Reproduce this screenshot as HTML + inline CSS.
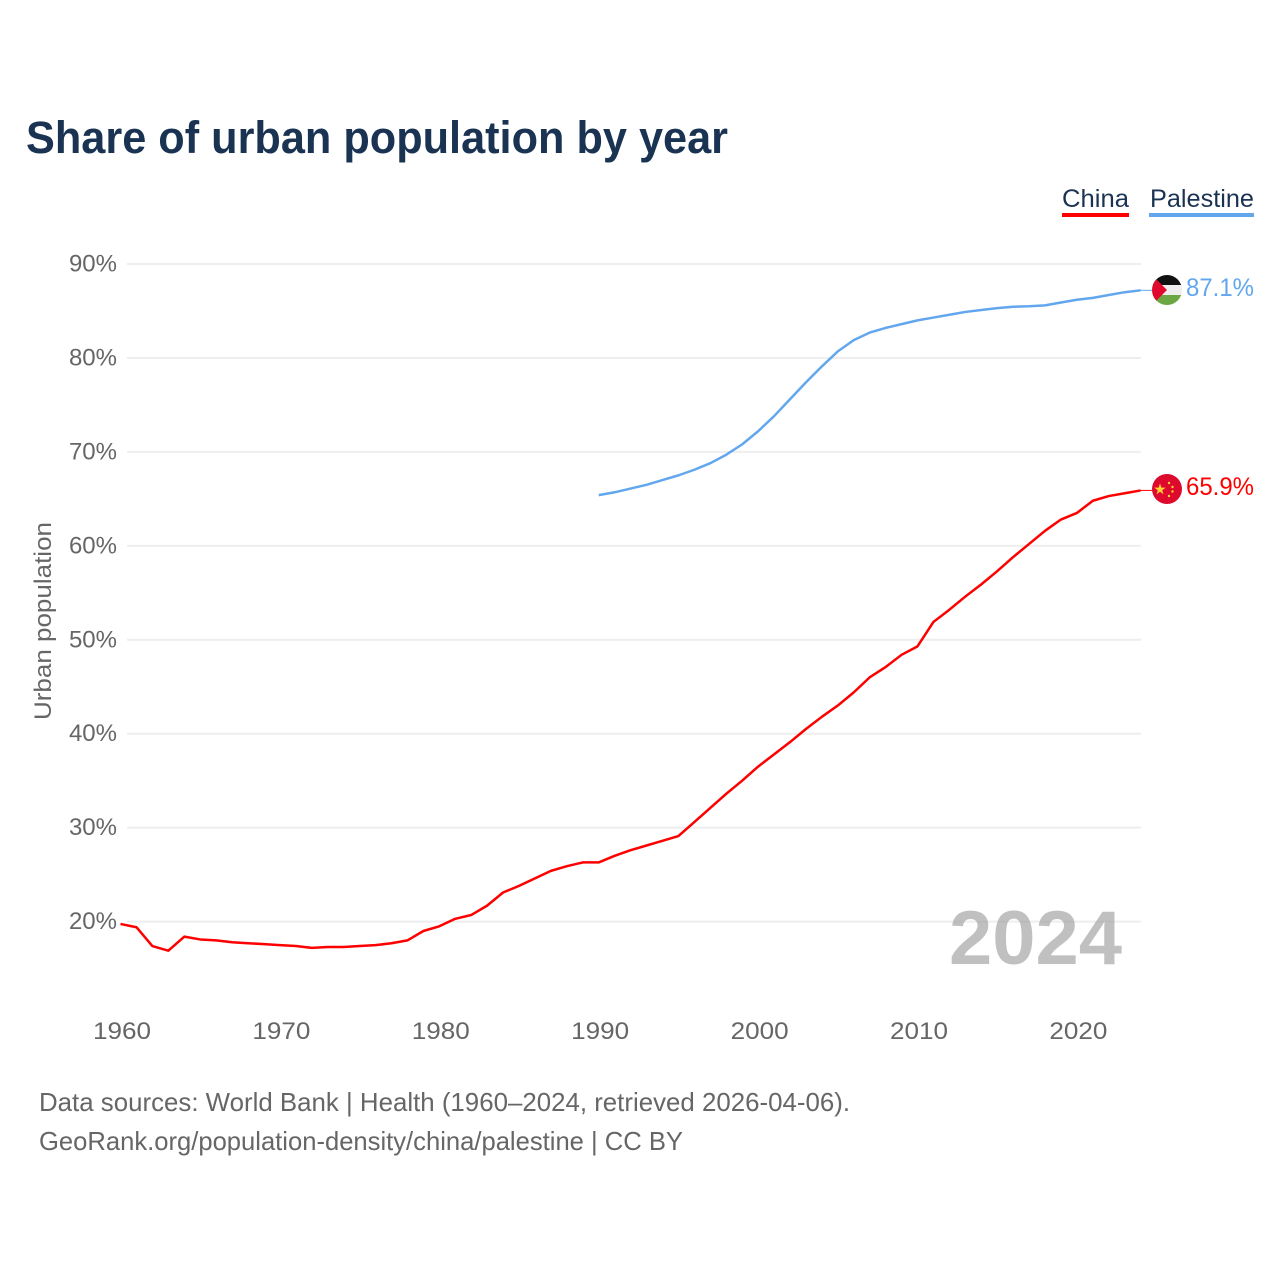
<!DOCTYPE html>
<html lang="en">
<head>
<meta charset="utf-8">
<title>Share of urban population by year</title>
<style>
html,body{margin:0;padding:0;background:#fff}
svg{display:block}
text{font-family:"Liberation Sans",sans-serif}
</style>
</head>
<body>
<svg id="chart" xmlns="http://www.w3.org/2000/svg" width="1280" height="1280" viewBox="0 0 1280 1280">
  <defs>
    <clipPath id="flag-clip-ps"><circle cx="1167" cy="290" r="15"/></clipPath>
    <clipPath id="flag-clip-cn"><circle cx="1167" cy="489" r="15"/></clipPath>
  </defs>
  <rect x="0" y="0" width="1280" height="1280" fill="#fff"/>
  <text x="26" y="153" font-size="45" font-weight="700" fill="#1a3352" textLength="702" lengthAdjust="spacingAndGlyphs">Share of urban population by year</text>

  <g id="grid"></g>
  <g id="y-ticks"></g>
  <g id="x-ticks"></g>
  <text transform="translate(51,621) rotate(-90)" text-anchor="middle" font-size="24" fill="#666" textLength="198" lengthAdjust="spacingAndGlyphs">Urban population</text>

  <g id="series"></g>

  <text x="949" y="964" font-size="76" font-weight="700" fill="#999" fill-opacity="0.62" textLength="173" lengthAdjust="spacingAndGlyphs">2024</text>

  <g>
    <text x="1062" y="207" font-size="25" fill="#1a3352" textLength="67" lengthAdjust="spacingAndGlyphs">China</text>
    <rect x="1062" y="213" width="67" height="4" fill="#ff0000"/>
  </g>
  <g>
    <text x="1150" y="207" font-size="25" fill="#1a3352" textLength="104" lengthAdjust="spacingAndGlyphs">Palestine</text>
    <rect x="1149" y="213" width="105" height="4" fill="#62a7ee"/>
  </g>

  <g clip-path="url(#flag-clip-ps)">
    <rect x="1152" y="275" width="30" height="10" fill="#111"/>
    <rect x="1152" y="285" width="30" height="10" fill="#eee"/>
    <rect x="1152" y="295" width="30" height="10" fill="#6ca744"/>
    <polygon points="1152,275 1167,290 1152,305" fill="#e0082d"/>
  </g>
  <g clip-path="url(#flag-clip-cn)">
    <rect x="1152" y="474" width="30" height="30" fill="#de0a2e"/>
    <polygon points="1160,483.5 1161.4,487.6 1165.7,487.6 1162.2,490.2 1163.5,494.3 1160,491.8 1156.5,494.3 1157.8,490.2 1154.3,487.6 1158.6,487.6" fill="#ffcf35"/>
    <circle cx="1169" cy="483" r="1.2" fill="#ffcf35"/>
    <circle cx="1172.500" cy="487" r="1.2" fill="#ffcf35"/>
    <circle cx="1172.500" cy="491.500" r="1.2" fill="#ffcf35"/>
    <circle cx="1169" cy="496" r="1.2" fill="#ffcf35"/>
  </g>

  <text x="1186" y="296" font-size="25" fill="#62a7ee" textLength="68" lengthAdjust="spacingAndGlyphs">87.1%</text>
  <text x="1186" y="495" font-size="25" fill="#ff0000" textLength="68" lengthAdjust="spacingAndGlyphs">65.9%</text>

  <text x="39" y="1111" font-size="26" fill="#666" textLength="811" lengthAdjust="spacingAndGlyphs">Data sources: World Bank | Health (1960–2024, retrieved 2026-04-06).</text>
  <text x="39" y="1150" font-size="26" fill="#666" textLength="644" lengthAdjust="spacingAndGlyphs">GeoRank.org/population-density/china/palestine | CC BY</text>
</svg>
<script>
const yTickValues = [20, 30, 40, 50, 60, 70, 80, 90];
const xTickYears = [1960, 1970, 1980, 1990, 2000, 2010, 2020];
const chinaStartYear = 1960;
const chinaValues = [19.75, 19.4, 17.4, 16.9, 18.4, 18.1, 18.0, 17.8, 17.7, 17.6, 17.5, 17.4, 17.2, 17.3, 17.3, 17.4, 17.5, 17.7, 18.0, 19.0, 19.5, 20.3, 20.7, 21.7, 23.1, 23.8, 24.6, 25.4, 25.9, 26.3, 26.3, 27.0, 27.6, 28.1, 28.6, 29.1, 30.6, 32.1, 33.6, 35.0, 36.5, 37.8, 39.1, 40.5, 41.8, 43.0, 44.4, 46.0, 47.1, 48.4, 49.3, 51.9, 53.2, 54.6, 55.9, 57.3, 58.8, 60.2, 61.6, 62.8, 63.5, 64.8, 65.3, 65.6, 65.9];
const palestineStartYear = 1990;
const palestineValues = [65.4, 65.7, 66.1, 66.5, 67.0, 67.5, 68.1, 68.8, 69.7, 70.8, 72.2, 73.8, 75.6, 77.4, 79.1, 80.7, 81.9, 82.7, 83.2, 83.6, 84.0, 84.3, 84.6, 84.9, 85.1, 85.3, 85.45, 85.5, 85.6, 85.9, 86.2, 86.4, 86.7, 87.0, 87.2];

const NS = 'http://www.w3.org/2000/svg';
const xScale = year => 120.5 + (year - 1960) * 15.94;
const yScale = value => 921.6 - (value - 20) * 9.394;

const gridGroup = document.getElementById('grid');
const yTickGroup = document.getElementById('y-ticks');
const xTickGroup = document.getElementById('x-ticks');
const seriesGroup = document.getElementById('series');

yTickValues.forEach(value => {
  const line = document.createElementNS(NS, 'line');
  
  
  line.setAttribute('x1', 127);
  line.setAttribute('x2', 1141);
  line.setAttribute('y1', yScale(value));
  line.setAttribute('y2', yScale(value));
  line.setAttribute('stroke', '#eeeeee');
  line.setAttribute('stroke-width', 2);
  gridGroup.appendChild(line);

  const label = document.createElementNS(NS, 'text');
  
  
  label.setAttribute('x', 117);
  label.setAttribute('y', yScale(value) + 7.5);
  label.setAttribute('text-anchor', 'end');
  label.setAttribute('font-size', 24);
  label.setAttribute('fill', '#666');
  label.textContent = value + '%';
  yTickGroup.appendChild(label);
});

xTickYears.forEach(year => {
  const label = document.createElementNS(NS, 'text');
  
  
  label.setAttribute('x', xScale(year) - 27.5);
  label.setAttribute('y', 1039);
  label.setAttribute('font-size', 24);
  label.setAttribute('fill', '#666');
  label.setAttribute('textLength', 58);
  label.setAttribute('lengthAdjust', 'spacingAndGlyphs');
  label.textContent = year;
  xTickGroup.appendChild(label);
});

function drawSeries(values, startYear, color, seriesName) {
  const points = values.map((value, index) => xScale(startYear + index).toFixed(2) + ',' + yScale(value).toFixed(2));
  const path = document.createElementNS(NS, 'polyline');
  
  
  path.setAttribute('points', points.join(' '));
  path.setAttribute('fill', 'none');
  path.setAttribute('stroke', color);
  path.setAttribute('stroke-width', 2.5);
  path.setAttribute('stroke-linejoin', 'round');
  seriesGroup.appendChild(path);

  const lastY = yScale(values[values.length - 1]);
  const connector = document.createElementNS(NS, 'line');
  
  
  connector.setAttribute('x1', xScale(startYear + values.length - 1));
  connector.setAttribute('x2', 1153);
  connector.setAttribute('y1', lastY);
  connector.setAttribute('y2', lastY);
  connector.setAttribute('stroke', color);
  connector.setAttribute('stroke-width', 1);
  seriesGroup.appendChild(connector);
}

drawSeries(chinaValues, chinaStartYear, '#ff0000', 'line-china');
drawSeries(palestineValues, palestineStartYear, '#62a7ee', 'line-palestine');
</script>
</body>
</html>
